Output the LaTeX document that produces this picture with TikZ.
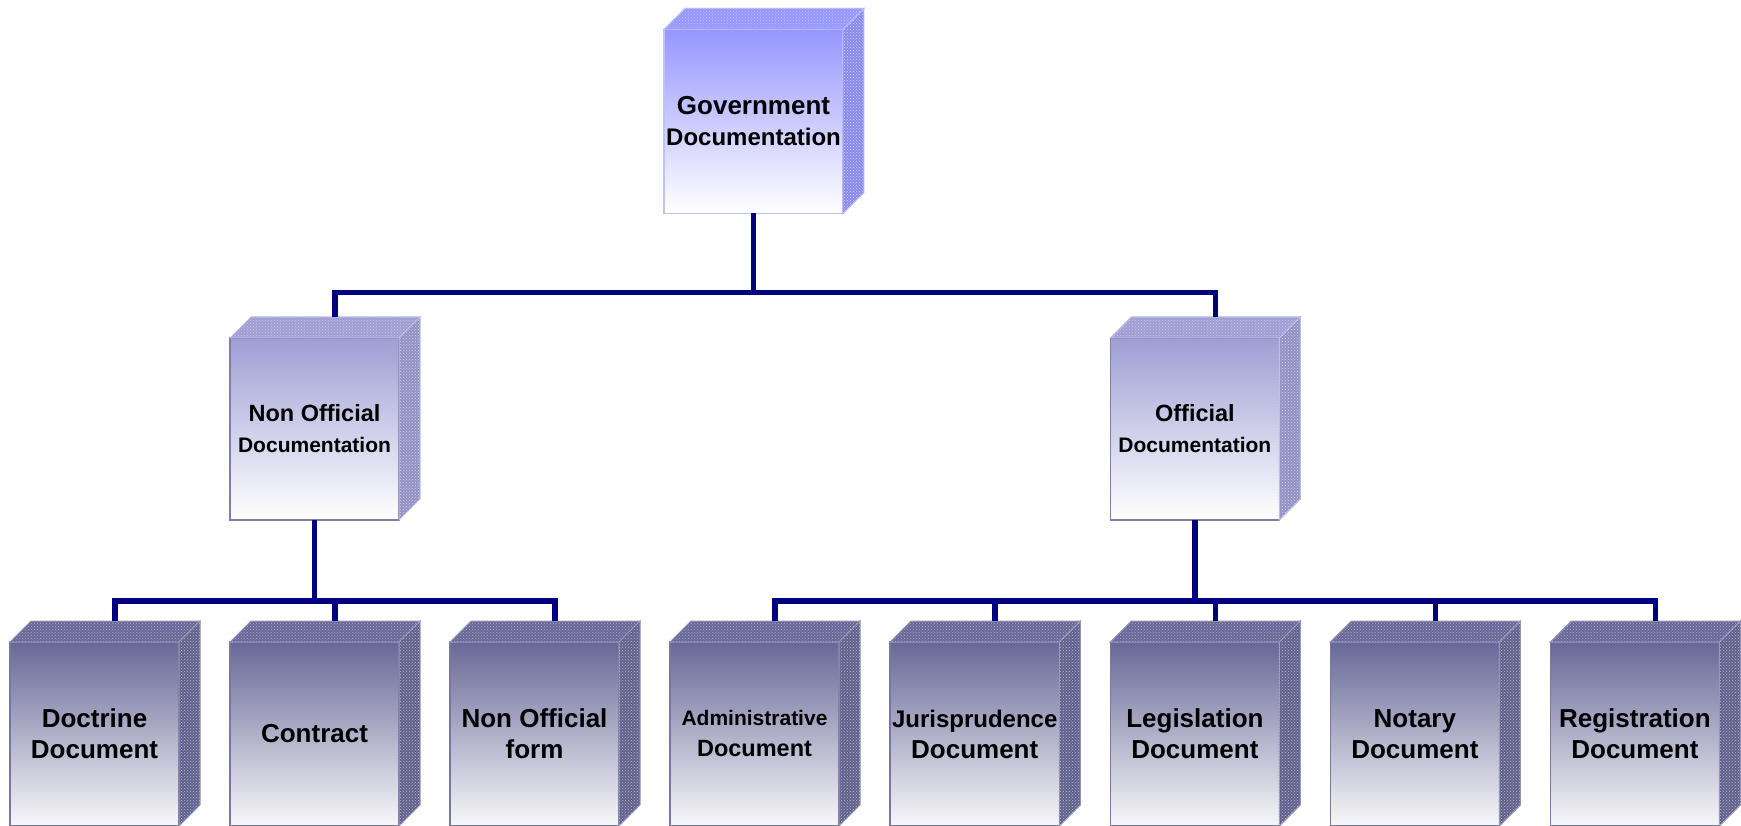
\documentclass[tikz,border=0pt]{standalone}
\usepackage{fontspec}
\setmainfont{Liberation Sans}
\usetikzlibrary{positioning,calc,patterns}
\definecolor{govblue}{RGB}{150,150,255}
\definecolor{midblue}{RGB}{158,158,212}
\definecolor{lowblue}{RGB}{104,104,152}
\definecolor{linknavy}{RGB}{0,0,128}

\begin{document}
\begin{tikzpicture}[x=1pt,y=1pt,node distance=51pt]
    \tikzstyle{docbox} = [rectangle, minimum width=169pt, minimum height=184pt, inner sep=2pt, outer sep=0pt, align=center, line width=1.5pt, font=\bfseries\fontsize{26}{31}\selectfont]
    \tikzstyle{govbox} = [docbox, draw=govblue!60!white, top color=govblue, bottom color=white]
    \tikzstyle{midbox} = [docbox, minimum height=182pt, draw=midblue!80!black, top color=midblue, bottom color=white]
    \tikzstyle{lowbox} = [docbox, draw=lowblue!90!white, top color=lowblue, bottom color=white!95!lowblue]
    \tikzstyle{link} = [line width=5.5pt, draw=linknavy]

    \useasboundingbox (0,0) rectangle (1741,-826);

    % bottom row
    \node[lowbox] (doctrine) at (94.5,-734) {Doctrine\\Document};
    \node[lowbox, right=of doctrine] (contract) {Contract};
    \node[lowbox, right=of contract] (nonform) {Non Official\\form};
    \node[lowbox, right=of nonform] (admin) {{\fontsize{21}{27}\selectfont Administrative}\\{\fontsize{23.5}{29}\selectfont Document}};
    \node[lowbox, right=of admin] (juris) {{\fontsize{24}{29}\selectfont Jurisprudence}\\Document};
    \node[lowbox, right=of juris] (legis) {Legislation\\Document};
    \node[lowbox, right=of legis] (notary) {Notary\\Document};
    \node[lowbox, right=of notary] (regis) {Registration\\Document};

    % middle row
    \node[midbox, above=122pt of contract] (nonoff) {{\fontsize{23.5}{27}\selectfont Non Official}\\{\fontsize{21}{26}\selectfont Documentation}};
    \node[midbox, above=122pt of legis] (official) {{\fontsize{23.5}{27}\selectfont Official}\\{\fontsize{21}{26}\selectfont Documentation}};

    % root
    \node[govbox] (gov) at (753.5,-121.5) {{\fontsize{26}{30}\selectfont Government}\\{\fontsize{24}{29}\selectfont Documentation}};

    % 3d faces
    \foreach \n/\c in {gov/govblue, nonoff/midblue, official/midblue, doctrine/lowblue, contract/lowblue, nonform/lowblue, admin/lowblue, juris/lowblue, legis/lowblue, notary/lowblue, regis/lowblue} {
        \filldraw[fill=\c, draw=\c!70!white, line width=1pt, postaction={pattern=crosshatch dots, pattern color=\c!55!white}]
            (\n.north west) -- ++(21,21) -- ($(\n.north east)+(21,21)$) -- (\n.north east) -- cycle;
        \filldraw[fill=\c!92!black, draw=\c!70!white, line width=1pt, postaction={pattern=crosshatch dots, pattern color=\c!45!white}]
            (\n.north east) -- ++(21,21) -- ($(\n.south east)+(21,21)$) -- (\n.south east) -- cycle;
    }

    % connectors
    \foreach \m in {nonoff, official}
        \draw[link] (gov.south) -- ++(0,-79) -| ($(\m.north)+(20.5,21)$);
    \foreach \m in {doctrine, contract, nonform}
        \draw[link] (nonoff.south) -- ++(0,-81) -| ($(\m.north)+(20.5,21)$);
    \foreach \m in {admin, juris, legis, notary, regis}
        \draw[link] (official.south) -- ++(0,-81) -| ($(\m.north)+(20.5,21)$);
\end{tikzpicture}
\end{document}
